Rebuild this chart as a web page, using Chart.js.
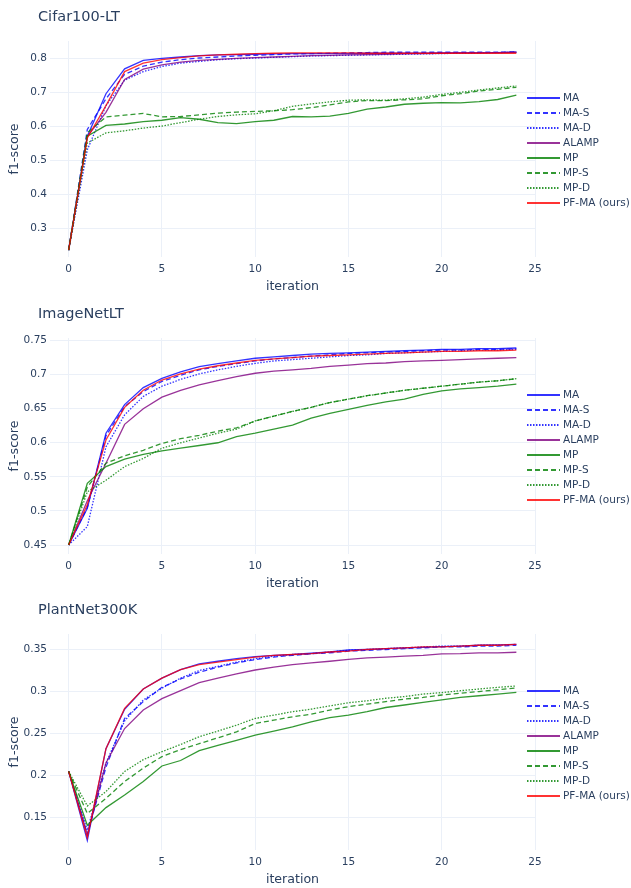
<!DOCTYPE html>
<html>
<head>
<meta charset="utf-8">
<script src="https://cdn.jsdelivr.net/npm/chart.js@4.4.1/dist/chart.umd.min.js"></script>
<style>
  body { margin: 0; background: #fff; width: 631px; height: 888px; position: relative; overflow: hidden; }
  .panel { position: absolute; left: 0; width: 631px; height: 296px; }
</style>
</head>
<body>
<div class="panel" style="top:0px"><canvas id="cifar"></canvas></div>
<div class="panel" style="top:297px"><canvas id="imagenet"></canvas></div>
<div class="panel" style="top:593px"><canvas id="plantnet"></canvas></div>
<script>
// iterations on the x axis
const iterations = [0,1,2,3,4,5,6,7,8,9,10,11,12,13,14,15,16,17,18,19,20,21,22,23,24];
const seriesNames = ['MA', 'MA-S', 'MA-D', 'ALAMP', 'MP', 'MP-S', 'MP-D', 'PF-MA (ours)'];
const xTicks = [0, 5, 10, 15, 20, 25];

// Cifar100-LT
const cifarMA    = [0.235,0.57,0.695,0.768,0.793,0.799,0.803,0.807,0.809,0.81,0.811,0.812,0.813,0.813,0.813,0.813,0.814,0.814,0.814,0.814,0.815,0.815,0.815,0.816,0.817];
const cifarMAS   = [0.235,0.59,0.68,0.752,0.776,0.788,0.795,0.8,0.803,0.806,0.808,0.81,0.812,0.813,0.814,0.815,0.816,0.817,0.817,0.817,0.817,0.817,0.817,0.817,0.818];
const cifarMAD   = [0.235,0.53,0.66,0.735,0.76,0.775,0.785,0.79,0.795,0.798,0.8,0.802,0.804,0.806,0.807,0.808,0.809,0.81,0.811,0.812,0.813,0.814,0.815,0.816,0.817];
const cifarALAMP = [0.235,0.57,0.64,0.737,0.767,0.78,0.788,0.793,0.796,0.799,0.801,0.803,0.805,0.807,0.808,0.809,0.81,0.811,0.812,0.813,0.814,0.815,0.815,0.816,0.817];
const cifarMP    = [0.235,0.57,0.602,0.606,0.613,0.617,0.625,0.62,0.61,0.607,0.613,0.617,0.628,0.627,0.629,0.637,0.65,0.656,0.664,0.667,0.669,0.668,0.672,0.678,0.691];
const cifarMPS   = [0.235,0.58,0.627,0.632,0.637,0.627,0.628,0.633,0.638,0.641,0.643,0.645,0.648,0.654,0.662,0.671,0.675,0.675,0.677,0.68,0.689,0.695,0.703,0.708,0.714];
const cifarMPD   = [0.235,0.55,0.58,0.586,0.594,0.6,0.61,0.62,0.628,0.633,0.636,0.645,0.658,0.665,0.671,0.676,0.677,0.676,0.68,0.685,0.693,0.699,0.706,0.712,0.718];
const cifarPFMA  = [0.235,0.565,0.66,0.76,0.785,0.795,0.801,0.806,0.809,0.811,0.813,0.814,0.815,0.815,0.815,0.815,0.814,0.814,0.814,0.814,0.814,0.814,0.814,0.814,0.814];
const cifarYTicks = [0.3, 0.4, 0.5, 0.6, 0.7, 0.8];

// ImageNetLT
const imagenetMA    = [0.45,0.504,0.614,0.656,0.681,0.6945,0.704,0.7116,0.716,0.72,0.724,0.726,0.728,0.73,0.731,0.732,0.733,0.734,0.735,0.736,0.737,0.737,0.738,0.738,0.739];
const imagenetMAS   = [0.45,0.505,0.61,0.653,0.675,0.69,0.699,0.707,0.712,0.716,0.72,0.723,0.725,0.727,0.729,0.731,0.732,0.733,0.734,0.735,0.736,0.736,0.737,0.737,0.738];
const imagenetMAD   = [0.45,0.477,0.594,0.641,0.668,0.683,0.693,0.701,0.707,0.712,0.7165,0.72,0.722,0.724,0.726,0.728,0.729,0.731,0.732,0.733,0.734,0.735,0.736,0.736,0.737];
const imagenetALAMP = [0.45,0.515,0.57,0.627,0.65,0.667,0.677,0.685,0.691,0.697,0.702,0.705,0.707,0.709,0.712,0.714,0.716,0.717,0.719,0.72,0.721,0.722,0.723,0.724,0.725];
const imagenetMP    = [0.45,0.5405,0.565,0.576,0.583,0.588,0.592,0.596,0.6,0.609,0.614,0.62,0.626,0.636,0.643,0.649,0.655,0.66,0.664,0.671,0.676,0.679,0.681,0.683,0.686];
const imagenetMPS   = [0.45,0.535,0.57,0.581,0.589,0.599,0.606,0.611,0.617,0.622,0.632,0.639,0.646,0.652,0.659,0.664,0.669,0.673,0.677,0.68,0.683,0.686,0.689,0.691,0.694];
const imagenetMPD   = [0.45,0.528,0.545,0.565,0.577,0.592,0.6,0.607,0.614,0.62,0.632,0.639,0.646,0.652,0.659,0.664,0.669,0.673,0.677,0.68,0.683,0.686,0.689,0.691,0.694];
const imagenetPFMA  = [0.45,0.509,0.604,0.652,0.677,0.692,0.701,0.708,0.713,0.717,0.721,0.723,0.725,0.727,0.728,0.729,0.73,0.731,0.732,0.733,0.734,0.734,0.735,0.735,0.736];
const imagenetYTicks = [0.45, 0.5, 0.55, 0.6, 0.65, 0.7, 0.75];

// PlantNet300K
const plantMA    = [0.205,0.123,0.232,0.279,0.303,0.316,0.326,0.333,0.336,0.339,0.3415,0.343,0.344,0.3455,0.347,0.3494,0.35,0.351,0.352,0.3525,0.3533,0.354,0.355,0.3555,0.356];
const plantMAS   = [0.205,0.13,0.21,0.268,0.288,0.305,0.315,0.323,0.329,0.334,0.338,0.341,0.343,0.345,0.346,0.348,0.349,0.35,0.351,0.352,0.353,0.353,0.354,0.354,0.355];
const plantMAD   = [0.205,0.135,0.215,0.265,0.29,0.304,0.316,0.325,0.33,0.335,0.339,0.342,0.344,0.345,0.347,0.349,0.35,0.351,0.352,0.353,0.354,0.354,0.355,0.355,0.356];
const plantALAMP = [0.205,0.13,0.215,0.256,0.278,0.2915,0.301,0.3105,0.316,0.321,0.3256,0.329,0.332,0.334,0.336,0.3383,0.34,0.341,0.342,0.343,0.3447,0.345,0.346,0.346,0.3467];
const plantMP    = [0.205,0.141,0.162,0.177,0.193,0.2115,0.218,0.2297,0.236,0.242,0.2483,0.253,0.258,0.264,0.269,0.272,0.276,0.281,0.284,0.287,0.29,0.293,0.295,0.297,0.299];
const plantMPS   = [0.205,0.155,0.173,0.193,0.209,0.2226,0.231,0.238,0.245,0.252,0.262,0.266,0.27,0.273,0.278,0.282,0.285,0.288,0.291,0.293,0.2959,0.298,0.3,0.302,0.3042];
const plantMPD   = [0.205,0.164,0.181,0.205,0.219,0.2285,0.237,0.2463,0.253,0.26,0.268,0.272,0.276,0.279,0.283,0.2867,0.289,0.292,0.294,0.297,0.2987,0.301,0.303,0.305,0.3066];
const plantPFMA  = [0.205,0.126,0.232,0.28,0.303,0.316,0.326,0.332,0.335,0.338,0.341,0.343,0.344,0.345,0.347,0.348,0.35,0.351,0.352,0.353,0.353,0.354,0.355,0.355,0.356];
const plantYTicks = [0.15, 0.2, 0.25, 0.3, 0.35];

const seriesColors = ['rgba(0,0,255,0.8)','rgba(0,0,255,0.8)','rgba(0,0,255,0.8)','rgba(128,0,128,0.8)',
                      'rgba(0,128,0,0.8)','rgba(0,128,0,0.8)','rgba(0,128,0,0.8)','rgba(255,0,0,0.8)'];
const seriesDash = [[], [5,3], [1.5,1.5], [], [], [5,3], [1.5,1.5], []];

const FONT = 'DejaVu Sans';
const INK = '#2a3f5f';
const GRID = '#ebf0f8';

// title + legend drawn on the canvas
const panelDecor = {
  id: 'panelDecor',
  afterDraw(chart, args, opts) {
    const ctx = chart.ctx;
    ctx.save();
    ctx.fillStyle = INK;
    ctx.font = '14.5px "' + FONT + '"';
    ctx.textBaseline = 'alphabetic';
    ctx.textAlign = 'left';
    ctx.fillText(opts.title, 38, 21);

    ctx.font = '10.5px "' + FONT + '"';
    ctx.textBaseline = 'middle';
    const top = chart.chartArea.top + 57;
    chart.data.datasets.forEach((ds, i) => {
      const y = top + 15 * i;
      ctx.strokeStyle = ds.borderColor;
      ctx.lineWidth = 2;
      ctx.setLineDash(ds.borderDash || []);
      ctx.beginPath();
      ctx.moveTo(527, y);
      ctx.lineTo(560, y);
      ctx.stroke();
      ctx.setLineDash([]);
      ctx.fillStyle = INK;
      ctx.fillText(ds.label, 563, y + 0.5);
    });
    ctx.restore();
  }
};

function makePanel(id, title, series, yTicks, yMin, yMax) {
  const datasets = series.map((vals, i) => ({
    label: seriesNames[i],
    data: iterations.map((it, k) => ({ x: it, y: vals[k] })),
    borderColor: seriesColors[i],
    backgroundColor: seriesColors[i],
    borderDash: seriesDash[i],
    borderWidth: 1.3,
    pointRadius: 0,
    tension: 0,
    order: series.length - i
  }));
  new Chart(document.getElementById(id), {
    type: 'line',
    data: { datasets },
    options: {
      responsive: true,
      maintainAspectRatio: false,
      animation: false,
      events: [],
      layout: { padding: { left: 7, right: 96, top: 41, bottom: 2 } },
      plugins: {
        legend: { display: false },
        tooltip: { enabled: false },
        panelDecor: { title }
      },
      scales: {
        x: {
          type: 'linear',
          min: -1,
          max: 25,
          afterBuildTicks: s => { s.ticks = xTicks.map(v => ({ value: v })); },
          afterFit: s => { s.height = 37; },
          grid: { color: GRID, drawTicks: false },
          border: { display: false },
          ticks: { font: { family: FONT, size: 10.5 }, color: INK, padding: 6, maxRotation: 0 },
          title: { display: true, text: 'iteration', font: { family: FONT, size: 12.6 }, color: INK, padding: 0 }
        },
        y: {
          min: yMin,
          max: yMax,
          afterBuildTicks: s => { s.ticks = yTicks.map(v => ({ value: v })); },
          afterFit: s => { s.width = 43; },
          grid: { color: GRID, drawTicks: false },
          border: { display: false },
          ticks: { font: { family: FONT, size: 10.5 }, color: INK, padding: 3, callback: v => String(v) },
          title: { display: true, text: 'f1-score', font: { family: FONT, size: 12.6 }, color: INK, padding: 0 }
        }
      }
    },
    plugins: [panelDecor]
  });
}

makePanel('cifar', 'Cifar100-LT',
  [cifarMA, cifarMAS, cifarMAD, cifarALAMP, cifarMP, cifarMPS, cifarMPD, cifarPFMA],
  cifarYTicks, 0.215, 0.85);
makePanel('imagenet', 'ImageNetLT',
  [imagenetMA, imagenetMAS, imagenetMAD, imagenetALAMP, imagenetMP, imagenetMPS, imagenetMPD, imagenetPFMA],
  imagenetYTicks, 0.4368, 0.7537);
makePanel('plantnet', 'PlantNet300K',
  [plantMA, plantMAS, plantMAD, plantALAMP, plantMP, plantMPS, plantMPD, plantPFMA],
  plantYTicks, 0.1116, 0.3684);
</script>
</body>
</html>
